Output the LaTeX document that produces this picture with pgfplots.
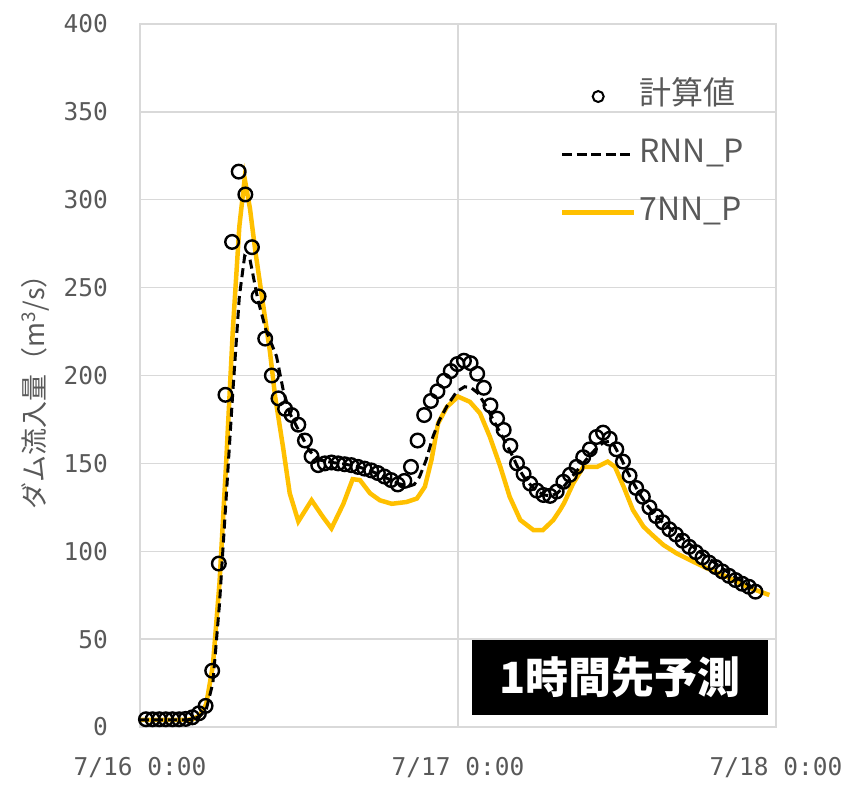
\documentclass[border=0pt]{standalone}
\usepackage{fontspec}
\setmainfont{Noto Sans CJK JP}
\newfontfamily\ticfont{DejaVu Sans Mono}
\usepackage{pgfplots}
\pgfplotsset{compat=1.18}
\definecolor{txtgray}{HTML}{595959}
\definecolor{gridgray}{HTML}{D9D9D9}
\definecolor{gold}{HTML}{FFC000}
\begin{document}
\begin{tikzpicture}
\begin{axis}[
  scale only axis, width=636pt, height=703pt,
  xmin=0, xmax=48, ymin=0, ymax=400,
  xtick={0,24,48}, xticklabels={7/16 0:00,7/17 0:00,7/18 0:00},
  ytick={0,50,...,400},
  grid=major, major grid style={draw=gridgray, line width=1.3pt},
  axis line style={draw=gridgray, line width=1.3pt},
  major tick length=0pt,
  tick label style={font=\ticfont\fontsize{24.5}{24.5}\selectfont, text=txtgray, inner sep=0pt},
  /pgf/number format/assume math mode=true,
  yticklabel style={anchor=east, xshift=-32pt},
  xticklabel style={anchor=center, yshift=-41pt},
  ylabel={ダム流入量（m\textsuperscript{3}/s）},
  ylabel style={font=\fontsize{27}{27}\selectfont, text=txtgray, at={(axis description cs:-0.165,0.486)}, anchor=center},
  clip=false,
  legend cell align=left,
  legend style={at={(axis description cs:0.660,0.917)}, anchor=north west, draw=none, fill=none,
    font=\fontsize{32}{32}\selectfont, text=txtgray, inner sep=0pt, row sep=30pt,
    nodes={inner sep=0pt, text height=22pt, text depth=6pt},
    /tikz/every odd column/.append style={column sep=3pt}},
]
% 7NN_P
\addplot[gold, line width=4.5pt, forget plot] coordinates {
(0,4) (3.5,4) (4.0,4.5) (4.5,6.5) (5.0,13) (5.5,35) (6.0,82) (6.5,150) (7.0,225) (7.5,285) (7.9,312)
(8.3,295) (8.7,271) (9.2,245) (9.8,214) (10.2,188) (10.8,159) (11.3,133) (11.95,117) (12.95,129)
(13.8,119.6) (14.45,113) (15.35,127) (16.05,141) (16.6,140.5) (17.36,133) (18.1,129) (19.0,127)
(20.1,128) (20.9,130) (21.5,136.7) (22.0,152) (22.5,172.8) (23.15,182) (24.0,188) (24.9,185)
(25.66,178.5) (26.4,165.2) (27.2,148) (27.9,131) (28.7,117.8) (29.7,112) (30.4,112) (31.2,117.8)
(31.7,123.5) (32.0,127.3) (32.7,138.7) (33.46,148) (34.5,148) (35.3,151) (35.85,148) (36.5,136.7)
(37.2,123.5) (38.0,114) (38.7,109) (39.5,103.6) (40.5,98.8) (41.5,95) (42.8,90.3) (44.3,85.5)
(45.8,79.8) (47.5,75.1)
};
% RNN_P
\addplot[black, line width=3pt, dash pattern=on 9pt off 5pt, forget plot] coordinates {
(0,4) (3.5,4) (4.0,4.5) (4.5,6) (5.0,10) (5.5,25) (6.0,70) (6.5,130) (7.0,190) (7.5,245) (7.9,268)
(8.3,266) (8.9,243) (9.5,226) (10.3,211) (10.8,192) (11.3,178.5) (12.1,167) (12.8,157) (13.5,152)
(14.5,150.5) (15.5,149.5) (16.5,148) (17.5,145.5) (18.5,142) (19.5,138.5) (20.3,137) (20.7,138)
(21.1,142.4) (21.6,152) (22.1,165) (22.6,174.7) (23.2,183) (23.9,190.8) (24.5,193.6) (25.0,193)
(25.5,190) (26.0,184) (26.5,177) (27.0,170) (27.5,163) (28.0,156) (28.5,148) (29.0,142) (29.5,137.5)
(30.0,134) (30.5,132) (31.0,131.5) (31.5,133) (32.0,137) (32.5,141.5) (33.0,146) (33.5,150.5)
(34.0,155) (34.5,159) (35.0,162) (35.4,162.5) (35.8,160) (36.3,153) (36.8,145) (37.3,138)
(37.8,131.5) (38.3,126) (38.8,121.5) (39.5,116) (40.0,113) (41.0,107) (42.0,101) (43.0,95.5)
(44.0,90) (45.0,85) (46.0,80.5) (46.5,78)
};
% 計算値
\addplot[only marks, mark=o, mark size=6.8pt, mark options={line width=2.4pt, black}, forget plot] coordinates {
(0.45,4.4) (0.95,4.4) (1.45,4.4) (1.95,4.4) (2.45,4.4) (2.95,4.4) (3.45,4.6) (3.95,5.5) (4.45,7.8)
(4.95,12) (5.45,32) (5.95,93) (6.45,189) (6.95,276) (7.45,316) (7.95,303) (8.45,273) (8.95,245)
(9.45,221) (9.95,200) (10.45,187) (10.95,181) (11.45,177.5) (11.95,172) (12.45,163) (12.95,154)
(13.45,149) (13.95,150) (14.45,150.5) (14.95,150) (15.45,149.5) (15.95,149) (16.45,148) (16.95,147)
(17.45,146) (17.95,144.5) (18.45,142.5) (18.95,140.5) (19.45,138) (19.95,140) (20.45,148) (20.95,163)
(21.45,177.5) (21.95,185.5) (22.45,191) (22.95,197) (23.45,202.5) (23.95,206.5) (24.45,208.4)
(24.95,207) (25.45,201) (25.95,193) (26.45,183) (26.95,175.5) (27.45,169) (27.95,160) (28.45,150)
(28.95,144) (29.45,138.5) (29.95,134.5) (30.45,132) (30.95,131.5) (31.45,134) (31.95,139.5)
(32.45,143.5) (32.95,148) (33.45,153.5) (33.95,158) (34.45,165) (34.95,167.5) (35.45,164) (35.95,158)
(36.45,151) (36.95,143) (37.45,136) (37.95,131) (38.45,125) (38.95,120) (39.45,116.5) (39.95,112.5)
(40.45,109.5) (40.95,106) (41.45,102.5) (41.95,99.5) (42.45,96.5) (42.95,93.5) (43.45,91) (43.95,88.5)
(44.45,86) (44.95,83.6) (45.45,81.5) (45.95,79.8) (46.45,77)
};
\addlegendimage{legend image code/.code={\path (0pt,0pt) (72pt,0pt); \draw[black, line width=2pt] (36pt,0pt) circle (5.5pt);}}
\addlegendentry{計算値}
\addlegendimage{legend image code/.code={\draw[black, line width=3.2pt, dash pattern=on 10pt off 4.5pt] (0pt,0pt) -- (72pt,0pt);}}
\addlegendentry{RNN\_P}
\addlegendimage{legend image code/.code={\draw[gold, line width=4.5pt] (0pt,0pt) -- (72pt,0pt);}}
\addlegendentry{7NN\_P}
\node[fill=black, text=white, font=\bfseries\fontsize{43}{43}\selectfont, minimum width=296pt, minimum height=75pt, inner sep=0pt] at (rel axis cs:0.7547,0.0704) {1時間先予測};
\end{axis}
\pgfresetboundingbox
\path (-140pt,-59pt) rectangle (707pt,727pt);
\end{tikzpicture}
\end{document}
